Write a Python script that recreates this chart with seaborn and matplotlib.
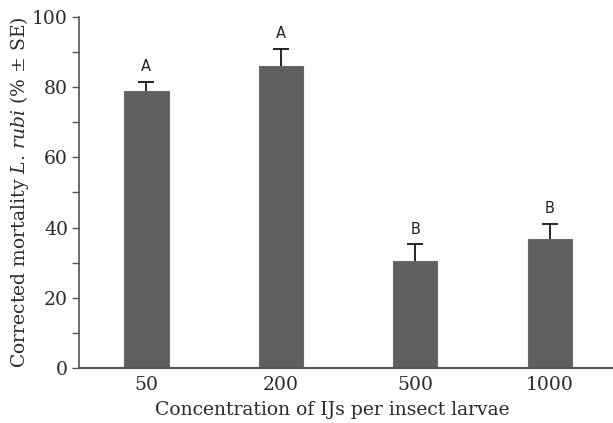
import numpy as np
import pandas as pd
import seaborn as sns
import matplotlib.pyplot as plt
from matplotlib.ticker import MultipleLocator

concentrations = ['50', '200', '500', '1000']
mortality = [79.0, 86.1, 30.6, 36.8]
se = [2.6, 4.7, 4.6, 4.3]
letters = ['A', 'A', 'B', 'B']

df = pd.DataFrame({'conc': concentrations, 'mortality': mortality})

sns.set_style('ticks')
plt.rcParams['font.family'] = ['DejaVu Serif']
plt.rcParams['mathtext.fontset'] = 'custom'
plt.rcParams['mathtext.rm'] = 'DejaVu Serif'
plt.rcParams['mathtext.it'] = 'DejaVu Serif:italic'
plt.rcParams['text.color'] = '#2a2a2a'
plt.rcParams['axes.labelcolor'] = '#2a2a2a'
plt.rcParams['xtick.labelcolor'] = '#2a2a2a'
plt.rcParams['ytick.labelcolor'] = '#2a2a2a'

fig = plt.figure(figsize=(6.13, 4.23), dpi=100)
ax = fig.add_axes([0.129, 0.130, 0.871, 0.830])

sns.barplot(data=df, x='conc', y='mortality', color='#5f5f5f', width=0.33,
            saturation=1, errorbar=None, ax=ax)
for p in ax.patches:
    p.set_edgecolor('#6a6a6a')
    p.set_linewidth(0.8)

xs = np.arange(len(mortality))
eb = ax.errorbar(xs, mortality, yerr=[np.zeros(len(se)), se], fmt='none',
                 ecolor='black', elinewidth=1.2, capsize=6, capthick=1.2)
# only the upper cap is drawn in the original
eb[1][0].set_visible(False)

# significance letters
for x, m, s, lab in zip(xs, mortality, se, letters):
    ax.text(x, m + s + 2.2, lab, ha='center', va='bottom',
            fontsize=10.5, family='DejaVu Sans', color='#222222')

ax.set_xlim(-0.5, 3.47)
ax.set_ylim(0, 100)
ax.yaxis.set_major_locator(MultipleLocator(20))
ax.yaxis.set_minor_locator(MultipleLocator(10))
ax.tick_params(axis='y', which='both', length=5, width=1, color='#555555',
               labelsize=13.5, pad=3)
ax.tick_params(axis='x', length=0, labelsize=13.5, pad=6)

for side in ['top', 'right']:
    ax.spines[side].set_visible(False)
ax.spines['left'].set_color('#555555')
ax.spines['bottom'].set_color('#555555')
ax.spines['left'].set_linewidth(1.2)
ax.spines['bottom'].set_linewidth(1.5)

ax.set_xlabel('Concentration of IJs per insect larvae', fontsize=13.5)
ax.xaxis.set_label_coords(0.474, -0.095)
ax.set_ylabel(r'Corrected mortality $L.\,rubi$ (% ± SE)', fontsize=13.5, labelpad=1)

fig.savefig('out.png', dpi=100)
